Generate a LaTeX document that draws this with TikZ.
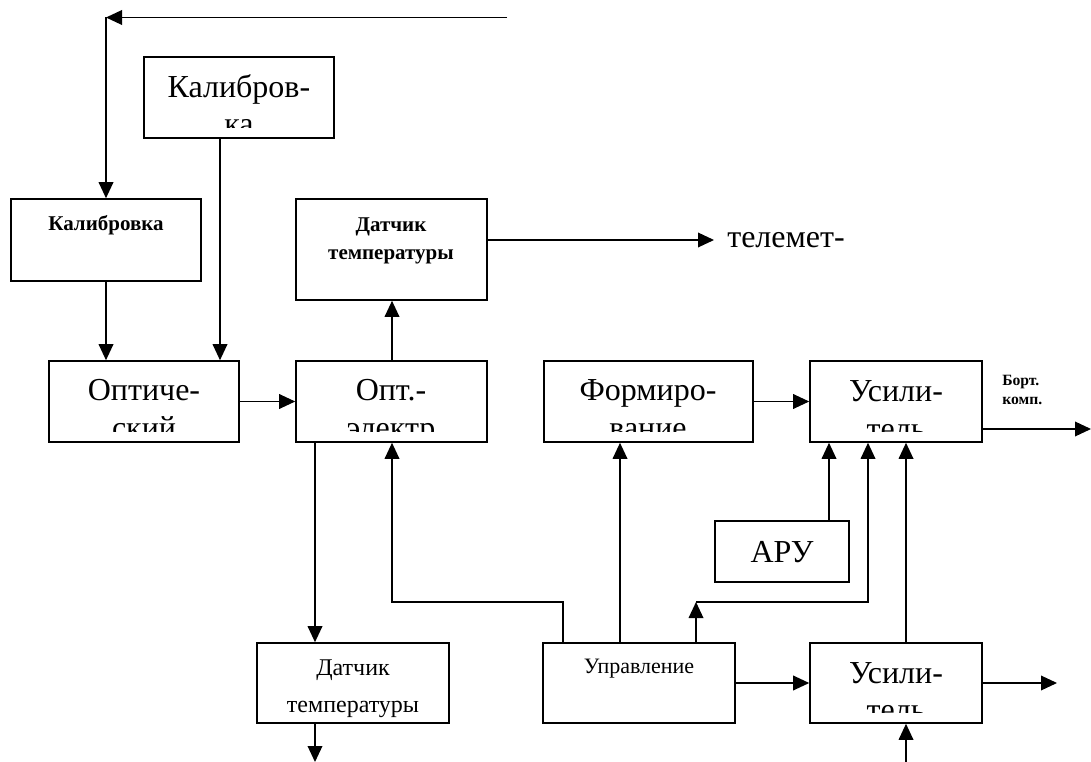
\documentclass[tikz,border=0pt]{standalone}
\usepackage{fontspec}
\setmainfont{Liberation Serif}
\usetikzlibrary{arrows.meta,fit}

\tikzset{
  box/.style={draw, line width=1.2pt, inner sep=0pt},
  arr/.style={-{Triangle[length=12pt,width=11pt]}, line width=1pt},
  bigtxt/.style={font=\fontsize{24}{28}\selectfont, anchor=base, inner sep=0pt},
  midtxt/.style={font=\fontsize{18}{21}\selectfont, anchor=base, inner sep=0pt},
  smalltxt/.style={font=\fontsize{16.5}{19}\selectfont, anchor=base, inner sep=0pt},
  boldtxt/.style={font=\fontsize{15.75}{18}\selectfont\bfseries, anchor=base, inner sep=0pt},
  tinytxt/.style={font=\fontsize{11.75}{13}\selectfont\bfseries, anchor=base west, inner sep=0pt}
}

\begin{document}
\begin{tikzpicture}[x={(0.75pt,0)}, y={(0,-0.75pt)}, line join=miter]
  \useasboundingbox (0,0) rectangle (1091,762);

  % 1. Блоки схемы (координаты углов в пикселях)
  \node[box, fit={(144,57) (334,138)}] (cal2) {};
  \node[box, fit={(11,199) (201,281)}] (cal1) {};
  \node[box, fit={(296,199) (487,300)}] (dt1) {};
  \node[box, fit={(49,361) (239,442)}] (opt) {};
  \node[box, fit={(296,361) (487,442)}] (oe) {};
  \node[box, fit={(544,361) (753,442)}] (form) {};
  \node[box, fit={(810,361) (982,442)}] (usil1) {};
  \node[box, fit={(715,521) (849,582)}] (aru) {};
  \node[box, fit={(257,643) (449,723)}] (dt2) {};
  \node[box, fit={(543,643) (735,723)}] (upr) {};
  \node[box, fit={(810,643) (982,723)}] (usil2) {};

  % 2. Надписи в блоках
  \node[bigtxt] (cal2A) at (239,98) {Калибров-};
  \node[boldtxt] (cal1A) at (106,231) {Калибровка};
  \node[boldtxt] (dt1A) at (391,232) {Датчик};
  \node[boldtxt] (dt1B) at (391,260) {температуры};
  \node[bigtxt] (optA) at (144,401) {Оптиче-};
  \node[bigtxt] (oeA) at (391,401) {Опт.-};
  \node[bigtxt] (formA) at (648,401) {Формиро-};
  \node[bigtxt] (usil1A) at (896,402) {Усили-};
  \node[bigtxt] (aruA) at (782,562) {АРУ};
  \node[midtxt] (dt2A) at (353,675) {Датчик};
  \node[midtxt] (dt2B) at (353,712) {температуры};
  \node[smalltxt] (uprA) at (639,673) {Управление};
  \node[bigtxt] (usil2A) at (896,683) {Усили-};

  % вторые строки обрезаны рамкой блока
  \begin{scope}
    \clip (cal2.north west) rectangle ([yshift=8.25pt]cal2.south east);
    \node[bigtxt] (cal2B) at (239,135) {ка};
  \end{scope}
  \begin{scope}
    \clip (opt.north west) rectangle ([yshift=8.25pt]opt.south east);
    \node[bigtxt] (optB) at (144,438) {ский};
  \end{scope}
  \begin{scope}
    \clip (oe.north west) rectangle ([yshift=8.25pt]oe.south east);
    \node[bigtxt] (oeB) at (391,438) {электр};
  \end{scope}
  \begin{scope}
    \clip (form.north west) rectangle ([yshift=8.25pt]form.south east);
    \node[bigtxt] (formB) at (648,438) {вание};
  \end{scope}
  \begin{scope}
    \clip (usil1.north west) rectangle ([yshift=8.25pt]usil1.south east);
    \node[bigtxt] (usil1B) at (896,439) {тель};
  \end{scope}
  \begin{scope}
    \clip (usil2.north west) rectangle ([yshift=8.25pt]usil2.south east);
    \node[bigtxt] (usil2B) at (896,720) {тель};
  \end{scope}

  % 3. Вспомогательные точки: столбцы, строка и свободные концы
  \coordinate (colA) at (106,0);
  \coordinate (colB) at (220,0);
  \coordinate (colC) at (315,0);
  \coordinate (colD) at (392,0);
  \coordinate (colE) at (563,0);
  \coordinate (colF) at (620,0);
  \coordinate (colG) at (696,0);
  \coordinate (colH) at (829,0);
  \coordinate (colI) at (868,0);
  \coordinate (colJ) at (906,0);
  \coordinate (rowK) at (0,602);
  \coordinate (fbEnd) at (507,17.5);
  \coordinate (fbCorner) at (106,17.5);
  \coordinate (teleEnd) at (714,240);
  \coordinate (dtOut) at (315,762);
  \coordinate (bkOut) at (1091,429);
  \coordinate (u2Out) at (1057,683);
  \coordinate (u2In) at (906,762);

  % 4. Связи
  \draw[arr] (fbEnd) -- (fbCorner);
  \draw[arr] (fbCorner) -- (cal1.north -| colA);
  \draw[arr] (cal1.south -| colA) -- (opt.north -| colA);
  \draw[arr] (cal2.south -| colB) -- (opt.north -| colB);
  \draw[arr] (opt.east) -- (oe.west);
  \draw[arr] (oe.north -| colD) -- (dt1.south -| colD);
  \draw[arr] (dt1.east |- teleEnd) -- (teleEnd);
  \node[bigtxt, anchor=base west] (tele) at (727,248) {телемет-};
  \draw[arr] (oe.south -| colC) -- (dt2.north -| colC);
  \draw[arr] (dt2.south -| colC) -- (dtOut);
  \draw[arr] (upr.north -| colE) |- (rowK -| colD) -- (oe.south -| colD);
  \draw[arr] (upr.north -| colF) -- (form.south -| colF);
  \draw[arr] (upr.north -| colG) -- (rowK -| colG);
  \draw[arr] (rowK -| colG) -| (usil1.south -| colI);
  \draw[arr] (aru.north -| colH) -- (usil1.south -| colH);
  \draw[arr] (usil2.north -| colJ) -- (usil1.south -| colJ);
  \draw[arr] (form.east) -- (usil1.west);
  \draw[arr] (usil1.east |- bkOut) -- (bkOut);
  \node[tinytxt] (bortA) at (1002,386) {Борт.};
  \node[tinytxt] (bortB) at (1002,405) {комп.};
  \draw[arr] (upr.east) -- (usil2.west);
  \draw[arr] (usil2.east) -- (u2Out);
  \draw[arr] (u2In) -- (usil2.south -| colJ);
\end{tikzpicture}
\end{document}
